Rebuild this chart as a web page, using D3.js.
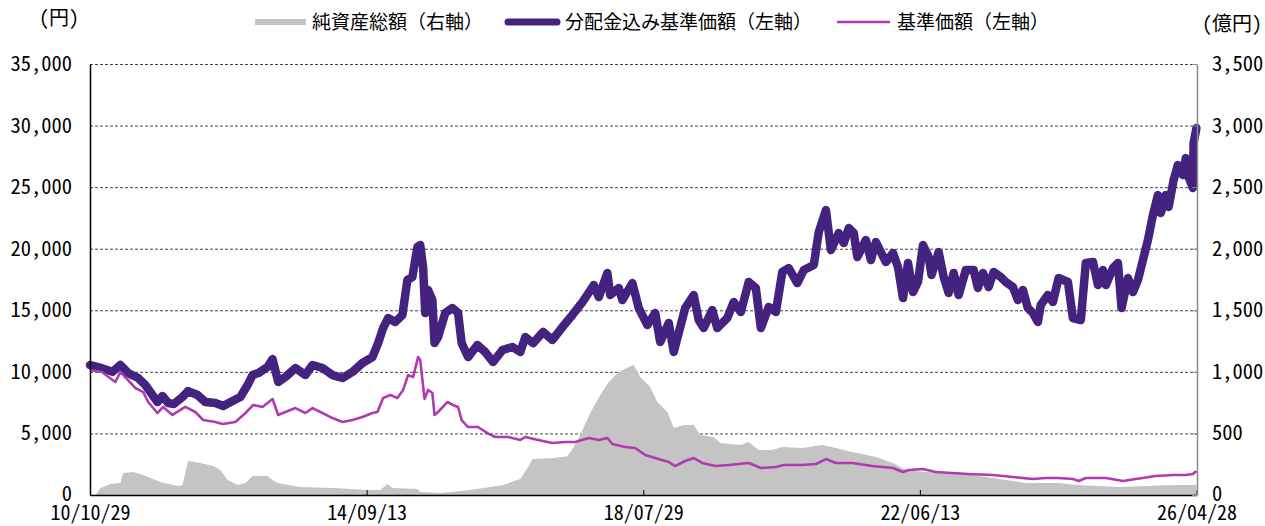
<!DOCTYPE html>
<html><head><meta charset="utf-8">
<script src="https://cdn.jsdelivr.net/npm/d3@7"></script>
<style>
html,body{margin:0;padding:0;background:#fff;}
svg text{font-family:"Noto Sans CJK JP","Noto Sans",sans-serif;}
.ax text,text.ax{font-feature-settings:"hwid";}
</style></head>
<body><svg id="c" width="1265" height="526"></svg>
<script>
// Dates as decimal years
const navDivDates = [2010.825,2010.99,2011.14,2011.25,2011.36,2011.50,2011.60,2011.70,2011.77,2011.84,2011.92,2012.00,2012.12,2012.20,2012.33,2012.44,2012.58,2012.69,2012.82,2012.93,2013.03,2013.10,2013.18,2013.31,2013.38,2013.46,2013.56,2013.70,2013.84,2013.94,2014.08,2014.22,2014.36,2014.50,2014.64,2014.78,2014.86,2014.93,2015.00,2015.10,2015.20,2015.27,2015.34,2015.41,2015.45,2015.49,2015.52,2015.56,2015.62,2015.65,2015.70,2015.80,2015.90,2015.98,2016.03,2016.12,2016.25,2016.36,2016.47,2016.60,2016.74,2016.85,2016.92,2017.03,2017.17,2017.30,2017.44,2017.58,2017.72,2017.88,2017.95,2018.07,2018.11,2018.23,2018.28,2018.42,2018.51,2018.63,2018.74,2018.81,2018.93,2019.00,2019.16,2019.28,2019.35,2019.42,2019.54,2019.61,2019.75,2019.84,2019.94,2020.05,2020.15,2020.22,2020.33,2020.43,2020.52,2020.61,2020.73,2020.82,2020.96,2021.03,2021.13,2021.20,2021.31,2021.38,2021.45,2021.52,2021.57,2021.69,2021.76,2021.83,2021.97,2022.07,2022.14,2022.21,2022.28,2022.35,2022.42,2022.49,2022.57,2022.61,2022.71,2022.78,2022.85,2022.92,2022.99,2023.09,2023.20,2023.26,2023.33,2023.41,2023.48,2023.58,2023.65,2023.75,2023.82,2023.89,2023.96,2024.03,2024.10,2024.14,2024.24,2024.31,2024.39,2024.52,2024.59,2024.70,2024.77,2024.87,2024.94,2025.01,2025.05,2025.15,2025.22,2025.27,2025.36,2025.43,2025.50,2025.57,2025.64,2025.71,2025.78,2025.82,2025.89,2025.93,2026.00,2026.06,2026.13,2026.17,2026.21,2026.27,2026.28,2026.32];
const navDivValues = [10550,10300,10000,10550,9900,9500,8930,8120,7550,8040,7470,7390,7960,8440,8120,7550,7470,7230,7630,7960,8930,9740,9900,10400,11040,9180,9580,10310,9740,10560,10310,9740,9500,9990,10720,11200,12340,13560,14370,14050,14620,17460,17700,20140,20300,18510,14780,16650,15830,12340,12830,14780,15180,14800,12340,11200,12180,11610,10800,11770,12020,11610,12830,12340,13240,12590,13640,14620,15670,17050,16080,18030,16240,16810,15830,17210,15180,13800,14780,12420,13970,11610,15180,16240,14210,13560,15020,13560,14370,15670,14860,17300,16810,13560,15270,14860,18110,18430,17210,18270,18680,21360,23140,19890,21270,20460,21680,21270,19330,20710,19080,20540,18920,19650,18510,15990,18840,16480,17300,20300,19330,17860,19730,17700,16400,18030,16240,18270,18270,16810,18030,16890,18110,17700,17300,16890,15830,16650,15180,14780,14050,15430,16240,15670,17620,17300,14370,14210,18840,18920,17050,18270,17050,18430,18840,15180,17620,16480,17460,19080,20710,22740,24360,22900,24360,23390,25580,26800,25980,27360,25820,24930,28580,29800];

const navDates = [2010.825,2010.99,2011.18,2011.25,2011.46,2011.57,2011.64,2011.77,2011.85,2011.98,2012.16,2012.30,2012.41,2012.58,2012.68,2012.86,2013.00,2013.11,2013.24,2013.38,2013.46,2013.56,2013.70,2013.84,2013.94,2014.08,2014.22,2014.36,2014.50,2014.64,2014.78,2014.85,2014.93,2015.03,2015.13,2015.21,2015.28,2015.35,2015.42,2015.45,2015.51,2015.56,2015.62,2015.65,2015.70,2015.83,2015.91,2015.98,2016.03,2016.12,2016.26,2016.39,2016.50,2016.68,2016.85,2016.92,2017.10,2017.30,2017.48,2017.62,2017.81,2017.95,2018.07,2018.14,2018.32,2018.46,2018.60,2018.74,2018.93,2019.02,2019.16,2019.28,2019.40,2019.58,2019.77,2020.05,2020.22,2020.43,2020.54,2020.80,2020.99,2021.13,2021.27,2021.50,2021.78,2022.07,2022.21,2022.29,2022.49,2022.67,2022.90,2023.13,2023.47,2023.75,2024.03,2024.21,2024.39,2024.59,2024.67,2024.77,2025.05,2025.29,2025.47,2025.75,2025.99,2026.17,2026.27,2026.32];
const navValues = [10150,9990,9180,9990,8690,8360,7550,6660,7150,6500,7150,6740,6090,5930,5770,5930,6660,7310,7150,7800,6500,6740,7060,6660,7060,6660,6250,5930,6090,6330,6660,6740,7880,8120,7880,8530,9740,9580,11200,10960,7800,8530,8280,6500,6740,7550,7310,7150,6090,5520,5520,5030,4710,4710,4470,4710,4470,4220,4300,4300,4630,4470,4630,4140,3900,3820,3250,3000,2680,2350,2760,3000,2600,2350,2440,2600,2190,2270,2440,2440,2520,2920,2600,2600,2350,2190,1870,2030,2110,1870,1790,1710,1620,1460,1300,1380,1380,1300,1140,1380,1380,1140,1300,1540,1620,1620,1710,1950];

const assetDates = [2010.90,2010.93,2010.97,2011.11,2011.25,2011.29,2011.43,2011.57,2011.81,2012.05,2012.12,2012.20,2012.37,2012.55,2012.65,2012.75,2012.89,2013.00,2013.10,2013.31,2013.38,2013.45,2013.77,2014.23,2014.71,2014.89,2014.99,2015.06,2015.41,2015.45,2015.73,2016.15,2016.61,2016.85,2016.95,2017.02,2017.32,2017.51,2017.60,2017.69,2017.83,2017.97,2018.09,2018.23,2018.37,2018.44,2018.53,2018.67,2018.77,2018.91,2019.00,2019.14,2019.28,2019.37,2019.56,2019.65,2019.94,2020.05,2020.19,2020.38,2020.52,2020.80,2021.08,2021.27,2021.50,2021.83,2022.07,2022.25,2022.53,2022.99,2023.47,2023.93,2024.39,2024.67,2025.23,2025.61,2026.03,2026.32];
const assetValues = [0,20,57,89,97,179,187,162,106,73,81,276,260,235,203,122,81,97,154,154,122,97,65,57,41,41,89,57,49,24,16,41,81,130,219,292,300,315,390,487,666,812,918,999,1040,1056,958,877,755,674,544,568,568,487,471,422,406,430,365,365,390,382,406,382,349,309,260,203,187,179,138,97,97,81,65,73,81,81];

const xTickDates = ["2010-10-29","2014-09-13","2018-07-29","2022-06-13","2026-04-28"];
const leftTicks = [0,5000,10000,15000,20000,25000,30000,35000];
const rightTicks = [0,500,1000,1500,2000,2500,3000,3500];
const legendLabels = ["純資産総額（右軸）","分配金込み基準価額（左軸）","基準価額（左軸）"];
const unitLabels = ["(円)","(億円)"];

function yd(v){const y=Math.floor(v);const s=new Date(y,0,1),e=new Date(y+1,0,1);return new Date(+s+(v-y)*(e-s));}
const pd = d3.timeParse("%Y-%m-%d");
const fmtX = d3.timeFormat("%y/%m/%d");

const L=90,R=1197,T=64,B=495;
const svg=d3.select("#c");
const x=d3.scaleTime().domain([pd(xTickDates[0]),pd(xTickDates[4])]).range([L,R-0.5]);
const yL=d3.scaleLinear().domain([0,35000]).range([B,T]);
const yR=d3.scaleLinear().domain([0,3500]).range([B,T]);

// gridlines
svg.append("g").selectAll("line").data(leftTicks.filter(d=>d>0)).join("line")
  .attr("x1",L).attr("x2",R).attr("y1",d=>yL(d)+0.5).attr("y2",d=>yL(d)+0.5)
  .attr("stroke","#444").attr("stroke-width",1).attr("stroke-dasharray","3,2");

// area
const asset=assetDates.map((d,i)=>({d:yd(d),v:assetValues[i]}));
svg.append("path").datum(asset)
  .attr("d",d3.area().x(p=>x(p.d)).y0(B).y1(p=>yR(p.v)))
  .attr("fill","#c4c4c4");

const navDiv=navDivDates.map((d,i)=>({d:yd(d),v:navDivValues[i]}));
svg.append("path").datum(navDiv)
  .attr("d",d3.line().x(p=>x(p.d)).y(p=>yL(p.v)))
  .attr("fill","none").attr("stroke","#43237f").attr("stroke-width",8.5)
  .attr("stroke-linejoin","round").attr("stroke-linecap","round");

const nav=navDates.map((d,i)=>({d:yd(d),v:navValues[i]}));
svg.append("path").datum(nav)
  .attr("d",d3.line().x(p=>x(p.d)).y(p=>yL(p.v)))
  .attr("fill","none").attr("stroke","#b03aae").attr("stroke-width",2.6)
  .attr("stroke-linejoin","round");

// axes
const gx=svg.append("g").attr("class","ax").attr("transform",`translate(0,${B})`)
  .call(d3.axisBottom(x).tickValues(xTickDates.map(pd)).tickFormat(fmtX).tickSize(-5).tickSizeOuter(0).tickPadding(11));
gx.select(".domain").attr("stroke","#000").attr("stroke-width",1.5);
gx.selectAll(".tick line").attr("stroke","#000");
gx.selectAll("text").attr("font-size",20).attr("fill","#000");

const gl=svg.append("g").attr("class","ax").attr("transform",`translate(${L},0)`)
  .call(d3.axisLeft(yL).tickValues(leftTicks).tickFormat(d3.format(",")).tickSize(0).tickSizeOuter(0).tickPadding(18));
gl.select(".domain").attr("stroke","#000").attr("stroke-width",1.5);
gl.selectAll("text").attr("font-size",20.5).attr("fill","#000");

const gr=svg.append("g").attr("class","ax").attr("transform",`translate(${R},0)`)
  .call(d3.axisRight(yR).tickValues(rightTicks).tickFormat(d3.format(",")).tickSize(-5).tickSizeOuter(0).tickPadding(15));
gr.select(".domain").attr("stroke","#8a8a8a").attr("stroke-width",1.5);
gr.selectAll(".tick line").attr("stroke","#8a8a8a");
gr.selectAll("text").attr("font-size",20.5).attr("fill","#000");

// shift the "0" labels up slightly so they clear the date labels
gl.selectAll(".tick").filter(d=>d===0).select("text").attr("dy","0.25em");
gr.selectAll(".tick").filter(d=>d===0).select("text").attr("dy","0.25em");

// unit labels
svg.append("text").attr("class","ax").attr("x",39).attr("y",18).attr("dy","0.35em").attr("font-size",20).text(unitLabels[0]);
svg.append("text").attr("class","ax").attr("x",1202).attr("y",24).attr("dy","0.35em").attr("font-size",20).text(unitLabels[1]);

// legend
const lg=svg.append("g");
lg.append("rect").attr("x",255).attr("y",19).attr("width",51).attr("height",6).attr("fill","#c4c4c4");
lg.append("text").attr("x",312).attr("y",22).attr("dy","0.35em").attr("font-size",19).text(legendLabels[0]);
lg.append("line").attr("x1",508).attr("x2",557).attr("y1",22).attr("y2",22).attr("stroke","#43237f").attr("stroke-width",7).attr("stroke-linecap","round");
lg.append("text").attr("x",565).attr("y",22).attr("dy","0.35em").attr("font-size",19).text(legendLabels[1]);
lg.append("line").attr("x1",837).attr("x2",890).attr("y1",22).attr("y2",22).attr("stroke","#b03aae").attr("stroke-width",2.5);
lg.append("text").attr("x",897).attr("y",22).attr("dy","0.35em").attr("font-size",19).text(legendLabels[2]);
</script></body></html>
